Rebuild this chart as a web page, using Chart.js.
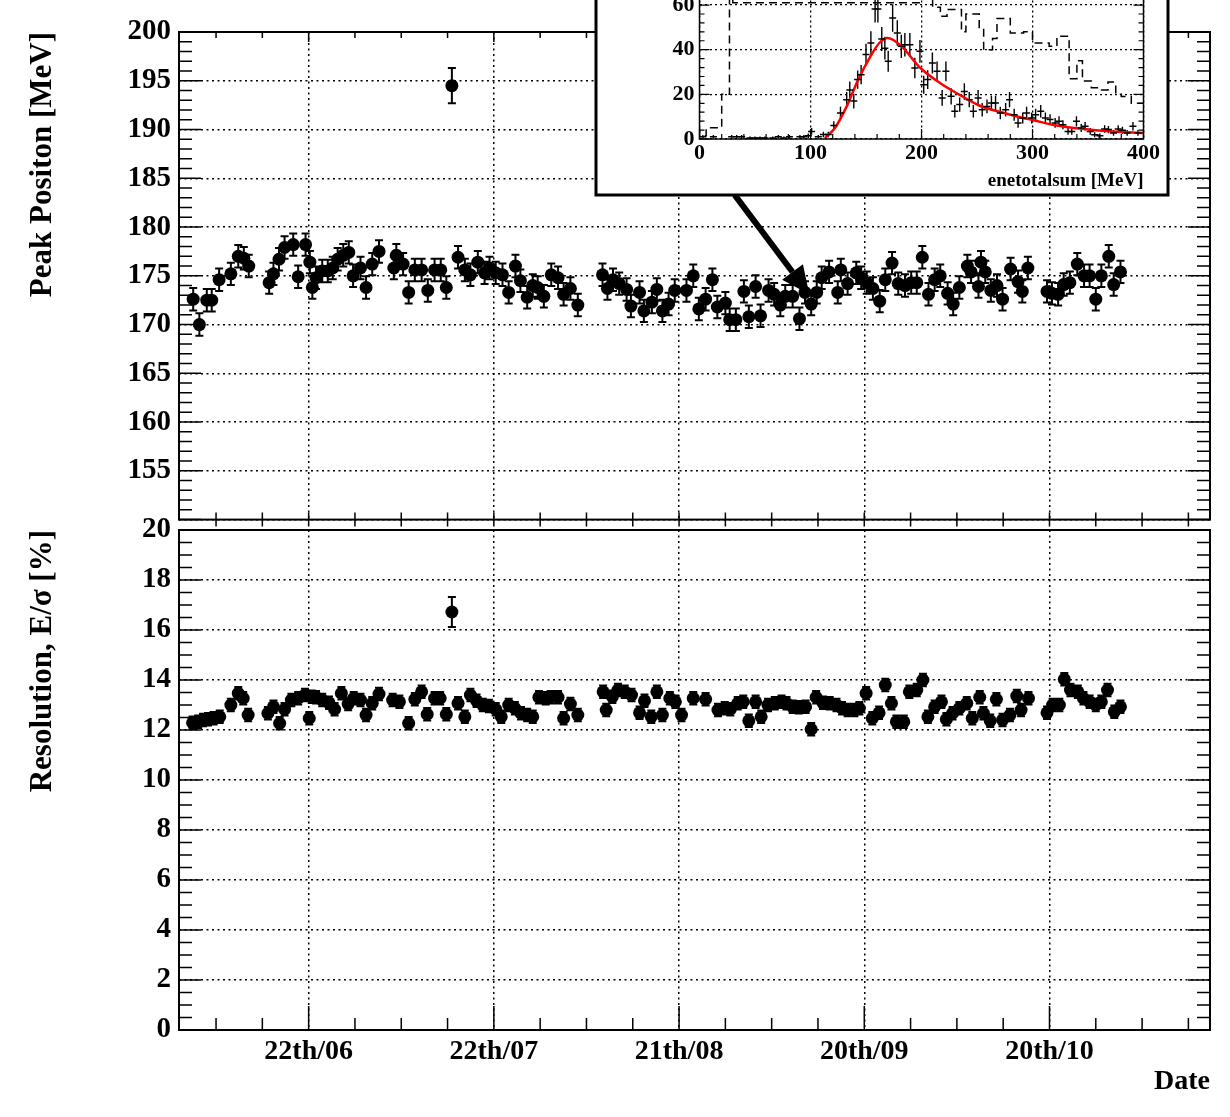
<!DOCTYPE html>
<html>
<head>
<meta charset="utf-8">
<title>Peak position and resolution vs date</title>
<script src="https://cdn.jsdelivr.net/npm/chart.js@4.4.1/dist/chart.umd.min.js"></script>
<style>
  html, body { margin: 0; padding: 0; background: #fff; }
  #wrap { position: relative; width: 1230px; height: 1117px; overflow: hidden; background: #fff; }
  canvas { position: absolute; }
  #peakChart { left: 0; top: 0; }
  #resChart { left: 0; top: 500px; }
  #insetChart { left: 594px; top: -100px; }
</style>
</head>
<body>
<div id="wrap">
  <canvas id="peakChart" width="1230" height="545"></canvas>
  <canvas id="resChart" width="1230" height="617"></canvas>
  <canvas id="insetChart" width="576" height="297"></canvas>
</div>
<script>
// x axis is day of year
const dateTicks = [173, 203, 233, 263, 293];
const dateLabels = ['22th/06', '22th/07', '21th/08', '20th/09', '20th/10'];

// top panel: peak position [MeV]
const topDays = [
  154.3, 155.3, 156.5, 157.3, 158.5, 160.4, 161.6, 162.5, 163.3, 166.6,
  167.3, 168.2, 169.1, 170.5, 171.3, 172.5, 173.2, 173.6, 174.2, 175.2,
  176.1, 176.9, 177.7, 178.6, 179.5, 180.2, 181.4, 182.3, 183.3, 184.4,
  186.8, 187.2, 188.3, 189.2, 190.2, 191.3, 192.3, 193.4, 194.4, 195.3,
  196.2, 197.2, 198.3, 199.2, 200.4, 201.5, 202.3, 203.3, 204.4, 205.4,
  206.5, 207.3, 208.4, 209.3, 210.1, 211.1, 212.3, 213.4, 214.3, 215.4,
  216.6, 220.6, 221.4, 222.3, 223.3, 224.5, 225.2, 226.6, 227.3, 228.6,
  229.4, 230.3, 231.3, 232.3, 234.2, 235.3, 236.2, 237.3, 238.4, 239.2,
  240.5, 241.2, 242.2, 243.5, 244.3, 245.4, 246.2, 247.5, 248.4, 249.4,
  250.2, 251.4, 252.5, 253.4, 254.4, 255.3, 256.1, 257.3, 258.7, 259.2,
  260.3, 261.7, 262.5, 263.4, 264.4, 265.5, 266.4, 267.5, 268.5, 269.6,
  270.6, 271.5, 272.4, 273.4, 274.4, 275.3, 276.5, 277.4, 278.4, 279.7,
  280.3, 281.5, 281.9, 282.6, 283.5, 284.5, 285.4, 286.7, 287.9, 288.6,
  289.5, 292.6, 293.4, 294.4, 295.3, 296.3, 297.5, 298.6, 299.5, 300.5,
  301.4, 302.6, 303.4, 304.5
];
const topPeak = [
  172.6, 170.0, 172.5, 172.5, 174.6, 175.2, 177.0, 176.8, 176.0, 174.3,
  175.2, 176.7, 177.9, 178.2, 174.9, 178.2, 176.4, 173.8, 174.8, 175.5,
  175.5, 175.8, 176.7, 177.1, 177.4, 175.0, 175.8, 173.8, 176.2, 177.5,
  175.8, 177.1, 176.2, 173.3, 175.6, 175.6, 173.5, 175.6, 175.6, 173.8,
  194.5, 176.9, 175.6, 175.1, 176.4, 175.3, 175.8, 175.3, 175.1, 173.3,
  176.0, 174.5, 172.8, 174.0, 173.8, 172.9, 175.1, 174.8, 173.1, 173.7,
  172.0, 175.1, 173.7, 174.6, 174.2, 173.6, 171.9, 173.3, 171.4, 172.3,
  173.6, 171.4, 172.1, 173.5, 173.5, 175.0, 171.6, 172.6, 174.6, 171.8,
  172.2, 170.5, 170.5, 173.4, 170.8, 173.9, 170.9, 173.5, 173.1, 172.0,
  172.9, 172.9, 170.6, 173.3, 172.1, 173.3, 174.8, 175.4, 173.3, 175.6,
  174.2, 175.3, 174.8, 174.3, 173.7, 172.4, 174.6, 176.3, 174.2, 174.0,
  174.3, 174.3, 176.9, 173.1, 174.6, 175.0, 173.2, 172.1, 173.8, 176.0,
  175.4, 173.9, 176.4, 175.4, 173.5, 174.0, 172.6, 175.7, 174.4, 173.4,
  175.8, 173.4, 173.2, 173.1, 174.1, 174.3, 176.2, 175.0, 175.0, 172.6,
  175.0, 177.0, 174.1, 175.4
];
const topErr = [
  1.15, 1.15, 1.15, 1.15, 1.15, 1.15, 1.15, 1.15, 1.15, 1.15,
  1.15, 1.15, 1.15, 1.15, 1.15, 1.15, 1.15, 1.15, 1.15, 1.15,
  1.15, 1.15, 1.15, 1.15, 1.15, 1.15, 1.15, 1.15, 1.15, 1.15,
  1.15, 1.15, 1.15, 1.15, 1.15, 1.15, 1.15, 1.15, 1.15, 1.15,
  1.8, 1.15, 1.15, 1.15, 1.15, 1.15, 1.15, 1.15, 1.15, 1.15,
  1.15, 1.15, 1.15, 1.15, 1.15, 1.15, 1.15, 1.15, 1.15, 1.15,
  1.15, 1.15, 1.15, 1.15, 1.15, 1.15, 1.15, 1.15, 1.15, 1.15,
  1.15, 1.15, 1.15, 1.15, 1.15, 1.15, 1.15, 1.15, 1.15, 1.15,
  1.15, 1.15, 1.15, 1.15, 1.15, 1.15, 1.15, 1.15, 1.15, 1.15,
  1.15, 1.15, 1.15, 1.15, 1.15, 1.15, 1.15, 1.15, 1.15, 1.15,
  1.15, 1.15, 1.15, 1.15, 1.15, 1.15, 1.15, 1.15, 1.15, 1.15,
  1.15, 1.15, 1.15, 1.15, 1.15, 1.15, 1.15, 1.15, 1.15, 1.15,
  1.15, 1.15, 1.15, 1.15, 1.15, 1.15, 1.15, 1.15, 1.15, 1.15,
  1.15, 1.15, 1.15, 1.15, 1.15, 1.15, 1.15, 1.15, 1.15, 1.15,
  1.15, 1.15, 1.15, 1.15
];

// bottom panel: resolution [%]
const botDays = [
  154.2, 155.1, 155.9, 156.7, 157.6, 158.6, 160.4, 161.6, 162.4, 163.2,
  166.4, 167.3, 168.3, 169.1, 170.2, 171.3, 172.4, 173.1, 173.5, 174.2,
  175.2, 176.3, 177.2, 178.3, 179.4, 180.3, 181.4, 182.3, 183.3, 184.4,
  186.6, 187.7, 189.2, 190.2, 191.3, 192.2, 193.4, 194.3, 195.3, 196.2,
  197.2, 198.3, 199.2, 200.2, 201.2, 202.2, 203.3, 204.2, 205.4, 206.4,
  207.4, 208.4, 209.3, 210.3, 211.4, 212.2, 213.4, 214.3, 215.4, 216.6,
  220.7, 221.2, 222.2, 223.1, 224.2, 225.3, 226.6, 227.4, 228.5, 229.4,
  230.3, 231.5, 232.4, 233.4, 235.3, 237.3, 239.3, 240.4, 241.3, 242.5,
  243.4, 244.3, 245.4, 246.3, 247.4, 248.5, 249.6, 250.4, 251.4, 252.4,
  253.5, 254.4, 255.2, 256.3, 257.4, 258.5, 259.4, 260.3, 261.4, 262.2,
  263.3, 264.3, 265.4, 266.4, 267.4, 268.2, 269.4, 270.3, 271.5, 272.5,
  273.3, 274.4, 275.5, 276.3, 277.3, 278.4, 279.6, 280.5, 281.7, 282.3,
  283.4, 284.4, 285.4, 286.6, 287.7, 288.4, 289.6, 292.6, 293.5, 294.6,
  295.4, 296.4, 297.6, 298.5, 299.5, 300.5, 301.4, 302.4, 303.5, 304.5
];
const botRes = [
  12.29, 12.33, 12.4, 12.43, 12.47, 12.53, 13.0, 13.47, 13.27, 12.6,
  12.67, 12.93, 12.27, 12.83, 13.2, 13.27, 13.4, 12.47, 13.33, 13.31,
  13.2, 13.09, 12.83, 13.47, 13.04, 13.27, 13.2, 12.6, 13.07, 13.44,
  13.2, 13.13, 12.27, 13.23, 13.53, 12.63, 13.27, 13.27, 12.63, 16.72,
  13.07, 12.53, 13.4, 13.17, 13.0, 12.96, 12.83, 12.53, 13.0, 12.87,
  12.67, 12.6, 12.53, 13.31, 13.27, 13.31, 13.31, 12.47, 13.04, 12.6,
  13.53, 12.8, 13.33, 13.6, 13.53, 13.4, 12.69, 13.17, 12.53, 13.53,
  12.6, 13.27, 13.13, 12.6, 13.27, 13.23, 12.8, 12.87, 12.83, 13.07,
  13.13, 12.37, 13.13, 12.53, 13.0, 13.07, 13.13, 13.07, 12.93, 12.91,
  12.93, 12.03, 13.31, 13.09, 13.07, 13.0, 12.87, 12.8, 12.8, 12.87,
  13.47, 12.47, 12.69, 13.8, 13.07, 12.33, 12.33, 13.53, 13.6, 14.0,
  12.53, 12.93, 13.13, 12.43, 12.67, 12.87, 13.07, 12.47, 13.31, 12.67,
  12.37, 13.23, 12.4, 12.6, 13.36, 12.8, 13.27, 12.69, 13.0, 13.0,
  14.03, 13.6, 13.53, 13.27, 13.13, 13.0, 13.13, 13.6, 12.73, 12.93
];
const botErr = [
  0.25, 0.25, 0.25, 0.25, 0.25, 0.25, 0.25, 0.25, 0.25, 0.25,
  0.25, 0.25, 0.25, 0.25, 0.25, 0.25, 0.25, 0.25, 0.25, 0.25,
  0.25, 0.25, 0.25, 0.25, 0.25, 0.25, 0.25, 0.25, 0.25, 0.25,
  0.25, 0.25, 0.25, 0.25, 0.25, 0.25, 0.25, 0.25, 0.25, 0.6,
  0.25, 0.25, 0.25, 0.25, 0.25, 0.25, 0.25, 0.25, 0.25, 0.25,
  0.25, 0.25, 0.25, 0.25, 0.25, 0.25, 0.25, 0.25, 0.25, 0.25,
  0.25, 0.25, 0.25, 0.25, 0.25, 0.25, 0.25, 0.25, 0.25, 0.25,
  0.25, 0.25, 0.25, 0.25, 0.25, 0.25, 0.25, 0.25, 0.25, 0.25,
  0.25, 0.25, 0.25, 0.25, 0.25, 0.25, 0.25, 0.25, 0.25, 0.25,
  0.25, 0.25, 0.25, 0.25, 0.25, 0.25, 0.25, 0.25, 0.25, 0.25,
  0.25, 0.25, 0.25, 0.25, 0.25, 0.25, 0.25, 0.25, 0.25, 0.25,
  0.25, 0.25, 0.25, 0.25, 0.25, 0.25, 0.25, 0.25, 0.25, 0.25,
  0.25, 0.25, 0.25, 0.25, 0.25, 0.25, 0.25, 0.25, 0.25, 0.25,
  0.25, 0.25, 0.25, 0.25, 0.25, 0.25, 0.25, 0.25, 0.25, 0.25
];

// arrow from the inset down to the run it shows (day, MeV)
const arrowFrom = [242.0, 183.3];
const arrowTo = [254.1, 173.1];

// inset: enetotalsum spectrum of one run
const specX = [
  3, 12.5, 29, 33.5, 38, 45.5, 50, 54.5, 59, 66, 71, 76, 81, 90.5, 94, 98, 101, 107,
  111.6, 116, 121, 127, 132.6, 135.4, 139, 142.5, 145.6, 150, 154.4, 158.2, 160.7,
  164.2, 167, 170, 174, 178.2, 181.8, 185, 189.5, 194, 198.6, 202, 205.6, 209.8,
  214, 218.6, 222, 226.7, 230, 234.4, 238.6, 243, 246.7, 251, 254.7, 259, 263,
  266.7, 271, 275.8, 279.3, 283.5, 287, 291.2, 294.7, 299.3, 302.8, 307.4, 311.6,
  315.8, 320.4, 323.9, 327.4, 332, 335.4, 339.6, 343.9, 347.4, 352, 356, 360.7,
  365, 368.4, 373, 377.2, 381, 385.3, 390.5, 395
];
const specY = [
  1, 1, 1, 1, 1, 0.5, 0.5, 0.5, 0.5, 0.5, 1, 0.5, 1, 1, 1, 1.5, 3.4, 1,
  2, 2, 6, 11.6, 17.6, 22, 17, 26.6, 28.8, 37.8, 43, 58.2, 58.2,
  44.8, 40.7, 34.8, 54.2, 47.5, 41.5, 42.2, 42.2, 31.8, 39.3, 24.3, 26.6, 34,
  30.3, 18.4, 30.3, 19.1, 12.4, 15.4, 21.3, 17.6, 12.4, 18.4, 13.1, 14.6, 16.1,
  16.1, 11.6, 13.1, 17.6, 10.9, 7.2, 9.4, 11.6, 9.4, 10.9, 12.4, 9.4,
  8.7, 7.2, 7.9, 6.4, 3.4, 3.4, 7.9, 4.9, 5.7, 3.4, 1.9, 1.5,
  4.5, 4.2, 2.7, 4.5, 3.9, 2.7, 5.7, 2.7
];
const specErr = [
  0.8, 0.8, 0.8, 0.8, 0.8, 0.6, 0.6, 0.6, 0.6, 0.6, 0.8, 0.6, 0.8, 0.8, 0.8, 1.0, 1.5, 0.8,
  1.2, 1.2, 2.0, 2.8, 3.4, 3.8, 3.3, 4.1, 4.3, 4.9, 5.3, 6.0, 6.0,
  5.4, 5.1, 4.7, 6.2, 5.7, 5.2, 5.3, 5.3, 4.6, 5.1, 4.0, 4.2, 4.7,
  4.4, 3.5, 4.4, 3.6, 2.8, 3.2, 3.7, 3.4, 2.8, 3.5, 3.0, 3.1, 3.3,
  3.3, 2.8, 3.0, 3.4, 2.7, 2.2, 2.5, 2.8, 2.5, 2.7, 2.8, 2.5,
  2.4, 2.2, 2.3, 2.0, 1.5, 1.5, 2.3, 1.8, 1.9, 1.5, 1.1, 1.0,
  1.7, 1.6, 1.3, 1.7, 1.6, 1.3, 1.9, 1.3
];
// dashed reference spectrum, step histogram (left bin edges)
const refEdges = [0, 6, 20, 27, 30, 200, 210, 217, 223, 236, 240, 252, 256, 264, 268,
  280, 292, 300, 315, 322, 333, 340, 345, 353, 361, 368, 375, 380, 389, 396, 400];
const refCounts = [5, 1.5, 5, 20, 78, 61, 66, 59, 55, 58, 48, 56, 50, 40, 45,
  54, 47.5, 48, 43, 41.5, 46, 27, 35, 26, 23, 22, 25.5, 20, 19, 16, 16];
// red fit curve
const fitX = [113, 122, 132.6, 143, 154, 162, 169.5, 182, 199, 217, 234, 252, 269.5, 287, 301, 322, 357, 400];
const fitY = [0.4, 4.9, 14.6, 26.6, 37, 43, 45.2, 41.5, 31.8, 25, 19.9, 15.0, 12.3, 10.0, 8.4, 6.0, 3.9, 2.7];

Chart.defaults.font.family = "'Liberation Serif', 'DejaVu Serif', serif";
Chart.defaults.font.weight = 'bold';
Chart.defaults.color = '#000';

function toPoints(xs, ys) {
  return xs.map((x, i) => ({ x: x, y: ys[i] }));
}

function tickSteps(min, max, origin, step) {
  const out = [];
  const k0 = Math.ceil((min - origin) / step - 1e-6);
  const k1 = Math.floor((max - origin) / step + 1e-6);
  for (let k = k0; k <= k1; k++) out.push({ v: origin + k * step, k: k });
  return out;
}

// ROOT style frame: ticks drawn inside the box on all four sides
const rootFrame = {
  id: 'rootFrame',
  afterDraw(chart, args, o) {
    const { ctx, chartArea: a } = chart;
    const x = chart.scales.x, y = chart.scales.y;
    ctx.save();
    ctx.strokeStyle = '#000';
    ctx.lineWidth = o.tickWidth;
    ctx.beginPath();
    tickSteps(x.min, x.max, o.xOrigin, o.xStep / o.xDiv).forEach(t => {
      const px = x.getPixelForValue(t.v);
      const i = t.k % o.xDiv === 0 ? 0 : 1;
      const out = o.len.bottomOut ? o.len.bottomOut[i] : 0;
      if (o.len.bottom[i] || out) {
        ctx.moveTo(px, a.bottom + out);
        ctx.lineTo(px, a.bottom - o.len.bottom[i]);
      }
      if (o.len.top[i]) {
        ctx.moveTo(px, a.top);
        ctx.lineTo(px, a.top + o.len.top[i]);
      }
    });
    tickSteps(y.min, y.max, y.min, o.yStep / o.yDiv).forEach(t => {
      const py = y.getPixelForValue(t.v);
      const i = t.k % o.yDiv === 0 ? 0 : 1;
      ctx.moveTo(a.left, py);
      ctx.lineTo(a.left + o.len.left[i], py);
      ctx.moveTo(a.right, py);
      ctx.lineTo(a.right - o.len.right[i], py);
    });
    ctx.stroke();
    ctx.lineWidth = o.frameWidth;
    ctx.strokeRect(a.left, a.top, a.right - a.left, a.bottom - a.top);
    ctx.restore();
  }
};

// vertical error bars from dataset.errors
const errorBars = {
  id: 'errorBars',
  beforeDatasetsDraw(chart) {
    const { ctx, chartArea: a } = chart;
    ctx.save();
    ctx.beginPath();
    ctx.rect(a.left, a.top, a.right - a.left, a.bottom - a.top);
    ctx.clip();
    chart.data.datasets.forEach((ds, i) => {
      if (!ds.errors) return;
      const meta = chart.getDatasetMeta(i);
      const ys = chart.scales[meta.yAxisID];
      ctx.strokeStyle = '#000';
      ctx.lineWidth = ds.errWidth;
      ctx.beginPath();
      meta.data.forEach((pt, j) => {
        const v = ds.data[j].y, e = ds.errors[j];
        const y1 = ys.getPixelForValue(v - e), y2 = ys.getPixelForValue(v + e);
        ctx.moveTo(pt.x, y1);
        ctx.lineTo(pt.x, y2);
        if (ds.errCap) {
          ctx.moveTo(pt.x - ds.errCap, y1);
          ctx.lineTo(pt.x + ds.errCap, y1);
          ctx.moveTo(pt.x - ds.errCap, y2);
          ctx.lineTo(pt.x + ds.errCap, y2);
        }
      });
      ctx.stroke();
    });
    ctx.restore();
  }
};

const arrowPlugin = {
  id: 'arrow',
  afterDraw(chart, args, o) {
    if (!o.from) return;
    const { ctx } = chart;
    const x = chart.scales.x, y = chart.scales.y;
    const x0 = x.getPixelForValue(o.from[0]), y0 = y.getPixelForValue(o.from[1]);
    const x1 = x.getPixelForValue(o.to[0]), y1 = y.getPixelForValue(o.to[1]);
    const ang = Math.atan2(y1 - y0, x1 - x0);
    const bx = x1 - o.head * Math.cos(ang), by = y1 - o.head * Math.sin(ang);
    ctx.save();
    ctx.strokeStyle = '#000';
    ctx.fillStyle = '#000';
    ctx.lineWidth = o.width;
    ctx.beginPath();
    ctx.moveTo(x0, y0);
    ctx.lineTo(bx, by);
    ctx.stroke();
    ctx.beginPath();
    ctx.moveTo(x1, y1);
    ctx.lineTo(bx + o.half * Math.sin(ang), by - o.half * Math.cos(ang));
    ctx.lineTo(bx - o.half * Math.sin(ang), by + o.half * Math.cos(ang));
    ctx.closePath();
    ctx.fill();
    ctx.restore();
  }
};

// white pad with thick border behind the inset
const insetBox = {
  id: 'insetBox',
  beforeDraw(chart) {
    const ctx = chart.ctx;
    ctx.save();
    ctx.fillStyle = '#fff';
    ctx.fillRect(2, -10, 572, 305);
    ctx.restore();
  },
  afterDraw(chart) {
    const ctx = chart.ctx;
    ctx.save();
    ctx.strokeStyle = '#000';
    ctx.lineWidth = 3;
    ctx.strokeRect(2, -10, 572, 305);
    ctx.restore();
  }
};

function panel(canvasId, cfg) {
  return new Chart(document.getElementById(canvasId), {
    type: 'scatter',
    data: {
      datasets: [{
        data: toPoints(cfg.days, cfg.values),
        errors: cfg.errors,
        errWidth: 2,
        errCap: 4,
        pointRadius: 6.5,
        pointBorderWidth: 0,
        pointBackgroundColor: '#000',
        pointBorderColor: '#000'
      }]
    },
    options: {
      responsive: false,
      animation: false,
      events: [],
      layout: { padding: cfg.padding },
      scales: {
        x: {
          type: 'linear', min: 152, max: 319,
          afterBuildTicks: s => { s.ticks = dateTicks.map(v => ({ value: v })); },
          afterFit: s => { s.height = cfg.xHeight; },
          grid: { color: '#000', lineWidth: 1.5, drawTicks: false },
          border: { display: false, dash: [2, 3.5] },
          ticks: {
            display: cfg.xLabels, padding: 5, maxRotation: 0, autoSkip: false,
            font: { size: 28 }, callback: (v, i) => dateLabels[i]
          },
          title: cfg.xTitle
        },
        y: {
          min: cfg.yMin, max: cfg.yMax,
          afterFit: s => { s.width = 179; },
          grid: { color: '#000', lineWidth: 1.5, drawTicks: false },
          border: { display: false, dash: [2, 3.5] },
          ticks: { stepSize: cfg.yStep, padding: 8, font: { size: 29 }, callback: cfg.yLabel },
          title: {
            display: true, text: cfg.yTitle, align: 'end',
            font: { size: 31 }, padding: { top: 24, bottom: 0 }
          }
        }
      },
      plugins: {
        legend: { display: false },
        tooltip: { enabled: false },
        rootFrame: cfg.frame,
        arrow: cfg.arrow || {}
      }
    },
    plugins: [errorBars, rootFrame, arrowPlugin]
  });
}

panel('peakChart', {
  days: topDays, values: topPeak, errors: topErr,
  padding: { top: 32, right: 20, bottom: 15, left: 0 },
  xHeight: 0, xLabels: false, xTitle: { display: false },
  yMin: 150, yMax: 200, yStep: 5,
  yLabel: v => (v === 150 ? '' : v),
  yTitle: 'Peak Positon [MeV]',
  frame: {
    xOrigin: 173, xStep: 30, xDiv: 4, yStep: 5, yDiv: 5, frameWidth: 2, tickWidth: 1.5,
    len: { left: [22, 13], right: [22, 13], top: [10, 6], bottom: [7, 7], bottomOut: [7, 7] }
  },
  arrow: { from: arrowFrom, to: arrowTo, width: 6, head: 28, half: 13 }
});

panel('resChart', {
  days: botDays, values: botRes, errors: botErr,
  padding: { top: 30, right: 20, bottom: 0, left: 0 },
  xHeight: 87, xLabels: true,
  xTitle: { display: true, text: 'Date', align: 'end', font: { size: 28 }, padding: { top: 0, bottom: 18 } },
  yMin: 0, yMax: 20, yStep: 2,
  yLabel: v => v,
  yTitle: 'Resolution, E/\u03c3 [%]',
  frame: {
    xOrigin: 173, xStep: 30, xDiv: 4, yStep: 2, yDiv: 4, frameWidth: 2, tickWidth: 1.5,
    len: { left: [22, 13], right: [22, 13], top: [0, 0], bottom: [24, 12] }
  }
});

new Chart(document.getElementById('insetChart'), {
  type: 'scatter',
  data: {
    datasets: [
      {
        data: toPoints(refEdges, refCounts),
        showLine: true, stepped: 'after',
        borderColor: '#000', borderWidth: 1.5, borderDash: [8, 5],
        pointRadius: 0, fill: false
      },
      {
        data: toPoints(specX, specY),
        errors: specErr, errWidth: 1.4, errCap: 0,
        pointStyle: 'line', pointRadius: 3.5, pointBorderWidth: 1.5,
        pointBorderColor: '#000', pointBackgroundColor: '#000'
      },
      {
        data: toPoints(fitX, fitY),
        showLine: true, cubicInterpolationMode: 'monotone',
        borderColor: '#ff0000', borderWidth: 2.5,
        pointRadius: 0, fill: false
      }
    ]
  },
  options: {
    responsive: false,
    animation: false,
    events: [],
    layout: { padding: { top: 60.4, right: 26.5, bottom: 0, left: 0 } },
    scales: {
      x: {
        type: 'linear', min: 0, max: 400,
        afterFit: s => { s.height = 58; },
        grid: { color: '#000', lineWidth: 1.3, drawTicks: false },
        border: { display: false, dash: [2, 3] },
        ticks: { stepSize: 100, padding: 1, maxRotation: 0, font: { size: 22 } },
        title: {
          display: true, text: 'enetotalsum [MeV]', align: 'end',
          font: { size: 19 }, padding: { top: 0, bottom: 5 }
        }
      },
      y: {
        min: 0, max: 80,
        afterFit: s => { s.width = 105.5; },
        grid: { color: '#000', lineWidth: 1.3, drawTicks: false },
        border: { display: false, dash: [2, 3] },
        ticks: { stepSize: 20, padding: 5, font: { size: 22 } }
      }
    },
    plugins: {
      legend: { display: false },
      tooltip: { enabled: false },
      rootFrame: {
        xOrigin: 0, xStep: 100, xDiv: 5, yStep: 20, yDiv: 5, frameWidth: 1.5, tickWidth: 1.2,
        len: { left: [10, 5], right: [10, 5], top: [10, 5], bottom: [10, 5] }
      }
    }
  },
  plugins: [insetBox, errorBars, rootFrame]
});
</script>
</body>
</html>
